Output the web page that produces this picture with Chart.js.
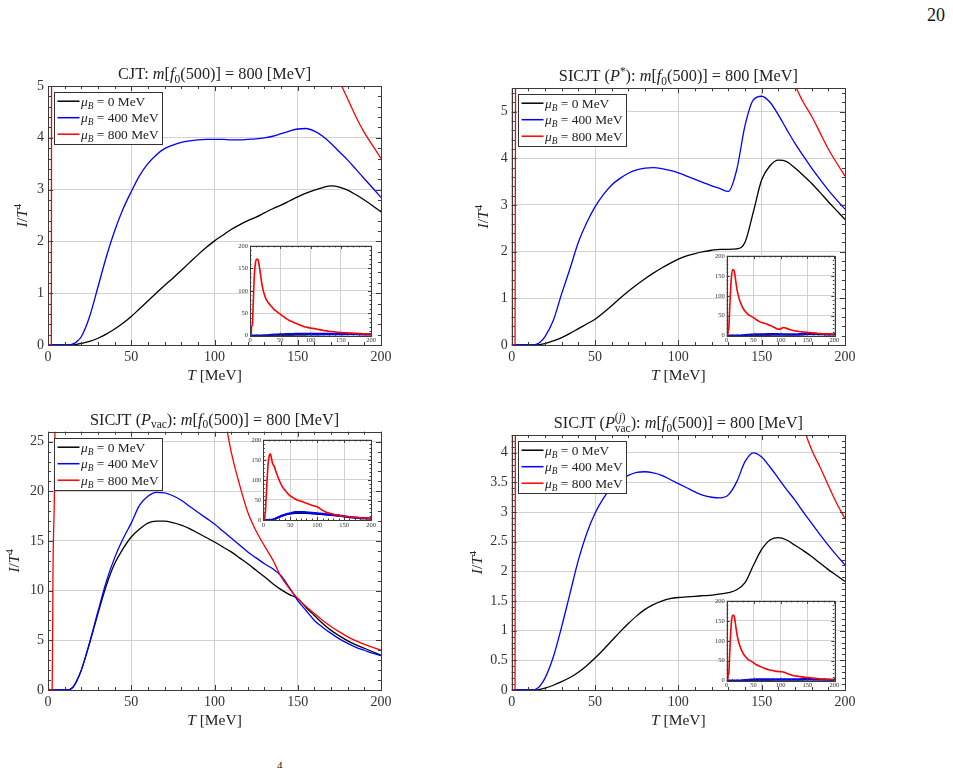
<!DOCTYPE html>
<html>
<head>
<meta charset="utf-8">
<script src="https://cdn.jsdelivr.net/npm/chart.js@4.4.0/dist/chart.umd.min.js"></script>
<style>
html, body { margin: 0; padding: 0; background: #fff; }
#page { position: relative; width: 953px; height: 768px; overflow: hidden; background: #fff; font-family: "Liberation Serif", serif; }
#page canvas { position: absolute; }
.pg { position: absolute; left: 927px; top: 5px; font-size: 18px; color: #111; }
.foot { position: absolute; left: 277px; top: 759px; font-size: 11px; color: #111; }
</style>
</head>
<body>
<div id="page">
  <div class="pg">20</div>
  <div class="foot">4</div>
</div>
<script>
// temperature grid, MeV
const T = [0, 2, 2.5, 3, 4, 5, 7, 9, 11, 13, 15, 17, 20, 25, 30, 35, 40, 45, 50, 55, 60, 65, 70, 75, 80, 85, 90, 95, 100,
  105, 110, 115, 120, 125, 130, 135, 140, 145, 150, 155, 160, 165, 170, 175, 180, 185, 190, 195, 200];

// CJT
const cjt0 = [0, 0, 0, 0, 0, 0, 0, 0, 0, 0, 0, 0.01, 0.03, 0.07, 0.13, 0.21, 0.31, 0.42, 0.55, 0.7, 0.85, 1.0, 1.15, 1.29, 1.44,
  1.59, 1.74, 1.88, 2.01, 2.12, 2.23, 2.32, 2.4, 2.47, 2.55, 2.63, 2.7, 2.78, 2.86, 2.93, 2.99, 3.04, 3.07, 3.05, 2.99, 2.9, 2.8, 2.69, 2.57];
const cjt400 = [0, 0, 0, 0, 0, 0, 0, 0, 0, 0, 0.02, 0.06, 0.16, 0.55, 1.12, 1.7, 2.2, 2.62, 2.96, 3.27, 3.5, 3.67, 3.79, 3.86, 3.91,
  3.94, 3.96, 3.97, 3.97, 3.97, 3.96, 3.96, 3.97, 3.98, 4.0, 4.03, 4.08, 4.13, 4.17, 4.18, 4.13, 4.03, 3.89, 3.73, 3.57, 3.39, 3.21, 3.03, 2.85];
const cjt800 = [0, 0, 20, 22, 25, 60, 130, 162, 170, 170, 158, 140, 112, 86, 74, 66, 58, 53, 48, 43, 38, 34, 31, 28, 25,
  22.5, 20, 18.5, 17, 16, 15, 13.5, 12, 11, 10, 9.2, 8.5, 7.8, 7.2, 6.7, 6.3, 5.9, 5.5, 5.1, 4.75, 4.4, 4.1, 3.85, 3.6];

// SICJT (P*)
const sic0 = [0, 0, 0, 0, 0, 0, 0, 0, 0, 0, 0, 0.01, 0.03, 0.09, 0.16, 0.25, 0.35, 0.45, 0.55, 0.69, 0.84, 1.0, 1.15, 1.29, 1.42,
  1.54, 1.65, 1.75, 1.84, 1.91, 1.96, 2.0, 2.03, 2.05, 2.05, 2.06, 2.2, 2.85, 3.54, 3.84, 3.96, 3.93, 3.79, 3.63, 3.46, 3.27, 3.07, 2.88, 2.69];
const sic400 = [0, 0, 0, 0, 0, 0, 0, 0, 0, 0, 0.02, 0.06, 0.18, 0.53, 1.1, 1.64, 2.2, 2.62, 2.96, 3.22, 3.43, 3.57, 3.68, 3.75, 3.79,
  3.8, 3.78, 3.74, 3.69, 3.62, 3.55, 3.48, 3.41, 3.35, 3.29, 3.75, 4.7, 5.25, 5.33, 5.2, 4.93, 4.62, 4.32, 4.05, 3.79, 3.55, 3.32, 3.11, 2.91];
const sic800 = [0, 0, 10, 14, 20, 50, 110, 150, 165, 165, 155, 135, 110, 85, 70, 60, 53, 49, 45, 40, 36, 33, 31, 29, 26,
  23, 20, 16.5, 17, 20.5, 19, 16.5, 14.5, 12.5, 11.5, 10.5, 9.7, 9, 8.3, 7.6, 7, 6.4, 5.6, 5.2, 4.9, 4.55, 4.2, 3.9, 3.62];

// SICJT (P_vac)
const vac0 = [0, 0, 0, 0, 0, 0, 0, 0, 0, 0.05, 0.27, 0.8, 2.0, 4.7, 7.7, 10.5, 12.7, 14.2, 15.4, 16.2, 16.8, 17.0, 17.0, 16.85, 16.6,
  16.25, 15.8, 15.35, 14.9, 14.4, 13.9, 13.3, 12.7, 12.05, 11.4, 10.7, 10.1, 9.6, 9.2, 8.3, 7.5, 6.7, 6.0, 5.45, 4.95, 4.55, 4.2, 3.85, 3.5];
const vac400 = [0, 0, 0, 0, 0, 0, 0, 0, 0, 0.05, 0.3, 0.85, 2.0, 4.8, 7.9, 10.9, 13.3, 15.2, 16.8, 18.6, 19.5, 19.9, 19.85, 19.55, 19.1,
  18.5, 17.9, 17.3, 16.7, 16.0, 15.3, 14.6, 13.9, 13.3, 12.7, 12.2, 11.5, 10.3, 9.0, 8.0, 7.0, 6.3, 5.7, 5.15, 4.7, 4.3, 4.0, 3.7, 3.45];
const vac800 = [0, 0, 0, 12, 22, 50, 100, 140, 160, 165, 155, 142, 135, 115, 98, 84, 75, 67, 60, 56, 52, 49, 47, 44.5, 42,
  39.5, 37, 35, 33, 28.5, 24, 20.7, 17.9, 16, 14.5, 13.1, 11.4, 10.2, 9.2, 8.4, 7.7, 7, 6.4, 5.85, 5.35, 4.95, 4.6, 4.3, 4.0];

// SICJT (P_vac^(j))
const pj0 = [0, 0, 0, 0, 0, 0, 0, 0, 0, 0, 0, 0.01, 0.03, 0.08, 0.14, 0.21, 0.3, 0.41, 0.54, 0.68, 0.83, 0.98, 1.12, 1.25, 1.36,
  1.44, 1.5, 1.54, 1.56, 1.57, 1.58, 1.59, 1.6, 1.62, 1.64, 1.69, 1.81, 2.1, 2.37, 2.53, 2.57, 2.53, 2.44, 2.35, 2.25, 2.14, 2.03, 1.93, 1.83];
const pj400 = [0, 0, 0, 0, 0, 0, 0, 0, 0, 0, 0.02, 0.07, 0.2, 0.56, 1.07, 1.63, 2.19, 2.64, 2.98, 3.23, 3.42, 3.54, 3.62, 3.67, 3.68,
  3.66, 3.62, 3.55, 3.48, 3.41, 3.34, 3.28, 3.25, 3.24, 3.29, 3.51, 3.85, 4.0, 3.93, 3.76, 3.57, 3.38, 3.2, 3.0, 2.81, 2.62, 2.44, 2.27, 2.11];
const pj800 = [0, 0, 12, 15, 20, 50, 110, 150, 164, 164, 155, 135, 110, 85, 70, 60, 53, 49, 45, 40, 37, 34, 31, 29, 27,
  25.5, 24, 23, 22.5, 22, 19.5, 17, 14.5, 12.5, 11.5, 10.5, 9.5, 8.7, 8, 7.2, 6.5, 5.8, 5.1, 4.45, 4.05, 3.76, 3.45, 3.15, 2.89];

const muLabels = ['0', '400', '800'];

const SERIF = '"Liberation Serif", "DejaVu Serif", serif';
Chart.defaults.font.family = SERIF;
const page = document.getElementById('page');

function fontFor(st, size) {
  const small = st.startsWith('sub') || st.startsWith('sup');
  const it = st.endsWith('i');
  return (it ? 'italic ' : '') + (small ? size * 0.7 : size) + 'px ' + SERIF;
}
function partOff(st, size) {
  if (st.startsWith('sub')) return size * 0.22;
  if (st.startsWith('sup')) return -size * 0.4;
  return 0;
}
function layoutRich(ctx, parts, size) {
  let cx = 0, mark = 0;
  const pos = [];
  for (const p of parts) {
    ctx.font = fontFor(p[1], size);
    const w = ctx.measureText(p[0]).width;
    if (p[2] === 'back') { const prev = cx; pos.push(mark); cx = Math.max(prev, mark + w); continue; }
    if (p[2] === 'mark') mark = cx;
    pos.push(cx);
    cx += w;
  }
  return { pos, width: cx };
}
function drawRich(ctx, parts, x, y, size, align) {
  const L = layoutRich(ctx, parts, size);
  const x0 = align === 'center' ? x - L.width / 2 : x;
  ctx.textAlign = 'left';
  ctx.textBaseline = 'alphabetic';
  parts.forEach((p, i) => {
    ctx.font = fontFor(p[1], size);
    ctx.fillText(p[0], x0 + L.pos[i], y + partOff(p[1], size));
  });
}

const tail = [['m', 'i'], ['[', 'r'], ['f', 'i'], ['0', 'subr'], ['(500)] = 800 [MeV]', 'r']];
const titles = [
  [['CJT: ', 'r']].concat(tail),
  [['SICJT (', 'r'], ['P', 'i'], ['*', 'supr'], ['): ', 'r']].concat(tail),
  [['SICJT (', 'r'], ['P', 'i'], ['vac', 'subr'], ['): ', 'r']].concat(tail),
  [['SICJT (', 'r'], ['P', 'i'], ['(', 'supr', 'mark'], ['j', 'supi'], [')', 'supr'], ['vac', 'subr', 'back'], ['): ', 'r']].concat(tail)
];

// frame, inward ticks, title, legend
const deco = {
  id: 'deco',
  beforeDraw(chart, args, o) {
    if (!o.bg) return;
    const ctx = chart.ctx, a = chart.chartArea;
    ctx.save();
    ctx.fillStyle = '#fff';
    ctx.fillRect(a.left - 1, a.top - 1, a.right - a.left + 2, a.bottom - a.top + 2);
    ctx.restore();
  },
  afterDatasetsDraw(chart, args, o) {
    if (!o.frame) return;
    const ctx = chart.ctx, a = chart.chartArea, xs = chart.scales.x, ys = chart.scales.y;
    ctx.save();
    ctx.strokeStyle = o.frame;
    ctx.lineWidth = 1;
    ctx.beginPath();
    for (let k = 0; ; k++) {
      const v = xs.min + k * o.xMinor;
      if (v > xs.max + 1e-9) break;
      const major = Math.abs(v / o.xMajor - Math.round(v / o.xMajor)) < 1e-6;
      const L = major ? o.maj : o.min;
      const px = Math.round(xs.getPixelForValue(v)) + 0.5;
      ctx.moveTo(px, a.bottom); ctx.lineTo(px, a.bottom - L);
      ctx.moveTo(px, a.top); ctx.lineTo(px, a.top + L);
    }
    for (let k = 0; ; k++) {
      const v = ys.min + k * o.yMinor;
      if (v > ys.max + 1e-9) break;
      const major = Math.abs(v / o.yMajor - Math.round(v / o.yMajor)) < 1e-6;
      const L = major ? o.maj : o.min;
      const py = Math.round(ys.getPixelForValue(v)) + 0.5;
      ctx.moveTo(a.left, py); ctx.lineTo(a.left + L, py);
      ctx.moveTo(a.right, py); ctx.lineTo(a.right - L, py);
    }
    ctx.stroke();
    ctx.strokeRect(Math.round(a.left) + 0.5, Math.round(a.top) + 0.5, Math.round(a.right - a.left), Math.round(a.bottom - a.top));
    ctx.restore();
  },
  afterDraw(chart, args, o) {
    if (!o.title) return;
    const ctx = chart.ctx, a = chart.chartArea;
    const cx = (a.left + a.right) / 2;
    ctx.save();
    ctx.fillStyle = '#222';
    drawRich(ctx, o.title, cx, a.top - 7, 16.3, 'center');
    drawRich(ctx, [['T', 'i'], [' [MeV]', 'r']], cx, a.bottom + 34.5, 15.5, 'center');
    ctx.save();
    ctx.translate(a.left - o.yTitleOff, (a.top + a.bottom) / 2);
    ctx.rotate(-Math.PI / 2);
    drawRich(ctx, [['I', 'i'], ['/', 'r'], ['T', 'i'], ['4', 'supr']], 0, 0, 15.5, 'center');
    ctx.restore();

    // legend
    const bx = Math.round(a.left + 6) + 0.5, by = Math.round(a.top + 6) + 0.5;
    ctx.fillStyle = '#fff';
    ctx.fillRect(bx, by, 108, 52);
    ctx.strokeStyle = '#333';
    ctx.lineWidth = 1;
    ctx.strokeRect(bx, by, 108, 52);
    const cols = ['#000000', '#0000ff', '#ff0000'];
    muLabels.forEach((m, i) => {
      const ry = by + 8.7 + i * 16.5;
      ctx.strokeStyle = cols[i];
      ctx.lineWidth = 1.5;
      ctx.beginPath();
      ctx.moveTo(bx + 3, ry); ctx.lineTo(bx + 25, ry);
      ctx.stroke();
      ctx.fillStyle = '#222';
      drawRich(ctx, [['\u03bc', 'i'], ['B', 'subi'], [' = ' + m + ' MeV', 'r']], bx + 26.5, ry + 4.5, 13.4, 'left');
    });
    ctx.restore();
  }
};
Chart.register(deco);

function addCanvas(x, y, w, h) {
  const c = document.createElement('canvas');
  c.width = w; c.height = h;
  c.style.left = x + 'px'; c.style.top = y + 'px';
  c.style.width = w + 'px'; c.style.height = h + 'px';
  page.appendChild(c);
  return c;
}

function sets(black, blue, red, lws) {
  const pts = arr => T.map((t, i) => ({ x: t, y: arr[i] }));
  return [
    { data: pts(red), borderColor: '#ff0000', borderWidth: lws[2] },
    { data: pts(blue), borderColor: '#0000ff', borderWidth: lws[1] },
    { data: pts(black), borderColor: '#000000', borderWidth: lws[0] }
  ];
}

const fmt = v => String(Math.round(v * 100) / 100);

function makeChart(box, plot, datasets, y, deco, tick) {
  const c = addCanvas(box.x, box.y, box.w, box.h);
  return new Chart(c, {
    type: 'line',
    data: { datasets },
    options: {
      responsive: false, animation: false, devicePixelRatio: 1,
      elements: { point: { radius: 0 }, line: { cubicInterpolationMode: 'monotone', borderJoinStyle: 'round' } },
      layout: { padding: { left: 0, top: plot.t - box.y, right: box.x + box.w - plot.r, bottom: 0 } },
      plugins: { legend: { display: false }, tooltip: { enabled: false }, title: { display: false }, deco },
      scales: {
        x: {
          type: 'linear', min: 0, max: 200,
          ticks: { stepSize: 50, font: { size: tick.size, family: SERIF }, color: '#333', padding: tick.xpad, maxRotation: 0, callback: fmt },
          grid: { color: '#d2d2d2', drawTicks: false, lineWidth: 1 },
          border: { display: false },
          afterFit(s) { s.height = box.y + box.h - plot.b; }
        },
        y: {
          type: 'linear', min: 0, max: y.max,
          ticks: { stepSize: y.step, includeBounds: false, font: { size: tick.size, family: SERIF }, color: '#333', padding: tick.ypad, callback: fmt },
          grid: { color: '#d2d2d2', drawTicks: false, lineWidth: 1 },
          border: { display: false },
          afterFit(s) { s.width = plot.l - box.x; }
        }
      }
    }
  });
}

const mainTick = { size: 14, xpad: 4, ypad: 4 };
const insetTick = { size: 6.5, xpad: 1, ypad: 2 };
const mainLw = [1.3, 1.3, 1.3];
const insetLw = [1.5, 2.2, 1.6];

const panels = [
  { box: { x: 0, y: 60, w: 470, h: 340 }, plot: { l: 48, t: 86, r: 381, b: 345 }, y: { max: 5, step: 1, minor: 0.2 },
    s: [cjt0, cjt400, cjt800], yOff: 21, inset: { l: 250, t: 245.7, r: 371, b: 335.7 } },
  { box: { x: 470, y: 60, w: 483, h: 340 }, plot: { l: 511.7, t: 88.3, r: 845, b: 345 }, y: { max: 5.5, step: 1, minor: 0.2 },
    s: [sic0, sic400, sic800], yOff: 24, inset: { l: 726.7, t: 255.7, r: 834.3, b: 335.7 } },
  { box: { x: 0, y: 400, w: 470, h: 340 }, plot: { l: 48, t: 431.7, r: 381, b: 690 }, y: { max: 26, step: 5, minor: 1 },
    s: [vac0, vac400, vac800], yOff: 29, inset: { l: 263.3, t: 439.3, r: 371, b: 520 } },
  { box: { x: 470, y: 400, w: 483, h: 340 }, plot: { l: 511.7, t: 435, r: 845, b: 690 }, y: { max: 4.3, step: 0.5, minor: 0.1 },
    s: [pj0, pj400, pj800], yOff: 30, inset: { l: 726.7, t: 600.7, r: 834.3, b: 680.7 } }
];

panels.forEach((p, i) => {
  makeChart(p.box, p.plot, sets(p.s[0], p.s[1], p.s[2], mainLw), p.y,
    { frame: '#3a3a3a', xMinor: 10, xMajor: 50, yMinor: p.y.minor, yMajor: p.y.step, maj: 5, min: 3,
      title: titles[i], yTitleOff: p.yOff },
    mainTick);
});

panels.forEach(p => {
  const q = p.inset;
  const box = { x: Math.floor(q.l - 16), y: Math.floor(q.t - 5), w: 0, h: 0 };
  box.w = Math.ceil(q.r + 9) - box.x;
  box.h = Math.ceil(q.b + 11) - box.y;
  makeChart(box, q, sets(p.s[0], p.s[1], p.s[2], insetLw), { max: 200, step: 50 },
    { bg: true, frame: '#3a3a3a', xMinor: 10, xMajor: 50, yMinor: 10, yMajor: 50, maj: 3, min: 1.5 },
    insetTick);
});
</script>
</body>
</html>
